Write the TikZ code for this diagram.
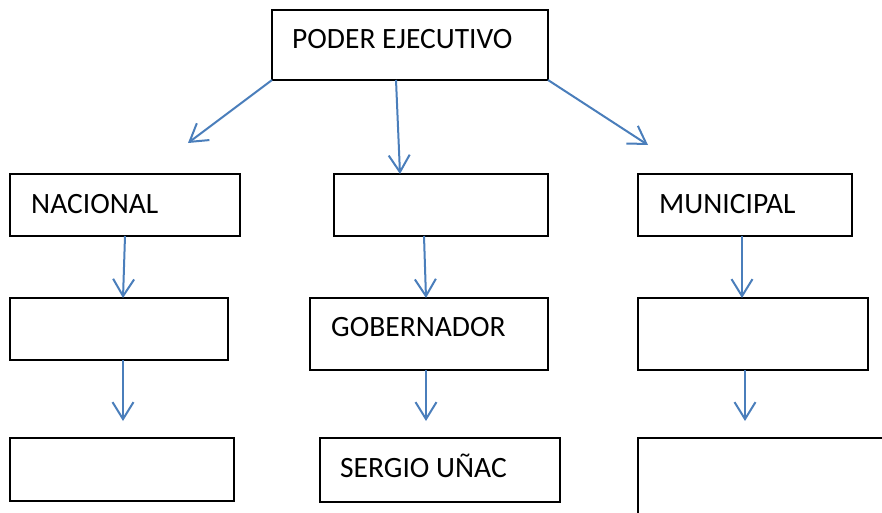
\documentclass[tikz,border=0pt]{standalone}
\usepackage{fontspec}
\setmainfont{Carlito}
\usetikzlibrary{arrows.meta}
\definecolor{arrowblue}{HTML}{4A7EBB}
\begin{document}
\begin{tikzpicture}[x=1pt,y=-1pt,
  box/.style={draw=black, line width=1.4pt, inner sep=0pt, outer sep=0pt, anchor=north west},
  lbl/.style={anchor=base west, inner sep=0pt, font=\fontsize{29.5}{35}\selectfont},
  conn/.style={draw=arrowblue, line width=2pt, -{Straight Barb[length=17pt,width=21pt,line width=2pt]}}]
\useasboundingbox (0,0) rectangle (882,512);
\begin{scope}
\clip (0,0) rectangle (882,512);
% row 0
\node[box, minimum width=276pt, minimum height=70pt] (top) at (272,10) {};
% row 1
\node[box, minimum width=230pt, minimum height=62pt] (nac) at (10,174) {};
\node[box, minimum width=214pt, minimum height=62pt] (mid1) at (334,174) {};
\node[box, minimum width=214pt, minimum height=62pt] (mun) at (638,174) {};
% row 2
\node[box, minimum width=218pt, minimum height=62pt] (l2) at (10,298) {};
\node[box, minimum width=238pt, minimum height=72pt] (gob) at (310,298) {};
\node[box, minimum width=230pt, minimum height=72pt] (r2) at (638,298) {};
% row 3
\node[box, minimum width=224pt, minimum height=63pt] (l3) at (10,438) {};
\node[box, minimum width=240pt, minimum height=64pt] (sergio) at (320,438) {};
\node[box, minimum width=260pt, minimum height=100pt] (r3) at (638,438) {};
\end{scope}
% labels
\node[lbl] (tPoder) at (292,48) {PODER EJECUTIVO};
\node[lbl] (tNac) at (31,213) {NACIONAL};
\node[lbl] (tMun) at (659,213) {MUNICIPAL};
\node[lbl] (tGob) at (331,336) {GOBERNADOR};
\node[lbl] (tSer) at (340,477) {SERGIO UÑAC};
% free arrow ends
\coordinate (endL) at (188,143);
\coordinate (endR) at (648,145);
\coordinate (endL3) at (123,421);
\coordinate (endM3) at (426,421);
\coordinate (endR3) at (745,421);
% connectors
\draw[conn] (top.south west) -- (endL);
\draw[conn] ([xshift=124pt]top.south west) -- ([xshift=66pt]mid1.north west);
\draw[conn] (top.south east) -- (endR);
\draw[conn] ([xshift=115pt]nac.south west) -- ([xshift=113pt]l2.north west);
\draw[conn] ([xshift=90pt]mid1.south west) -- ([xshift=116pt]gob.north west);
\draw[conn] ([xshift=104pt]mun.south west) -- ([xshift=104pt]r2.north west);
\draw[conn] ([xshift=113pt]l2.south west) -- (endL3);
\draw[conn] ([xshift=116pt]gob.south west) -- (endM3);
\draw[conn] ([xshift=107pt]r2.south west) -- (endR3);
\end{tikzpicture}
\end{document}
